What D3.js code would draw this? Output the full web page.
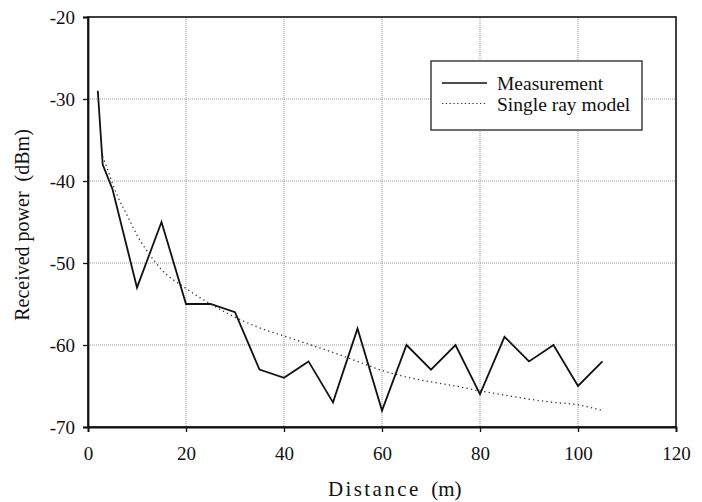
<!DOCTYPE html>
<html><head><meta charset="utf-8">
<script src="https://cdn.jsdelivr.net/npm/d3@7"></script>
<style>body{margin:0;background:#fff}svg{display:block}</style>
</head><body><svg id="c" width="702" height="502"></svg>
<script>
const measDist = [2, 3, 5, 10, 15, 20, 25, 30, 35, 40, 45, 50, 55, 60, 65, 70, 75, 80, 85, 90, 95, 100, 105];
const measPower = [-29, -38, -41, -53, -45, -55, -55, -56, -63, -64, -62, -67, -58, -68, -60, -63, -60, -66, -59, -62, -60, -65, -62];
const modelDist = [3, 4, 5, 6, 8, 10, 12, 15, 20, 25, 30, 35, 40, 45, 50, 55, 60, 65, 70, 75, 80, 85, 90, 95, 100, 105];
const modelPower = [-37, -38.6, -40.3, -41.8, -44.2, -46.6, -48.5, -50.8, -53.1, -55.0, -56.6, -57.9, -58.9, -59.9, -60.9, -62.0, -63.1, -63.9, -64.5, -65.0, -65.6, -66.1, -66.6, -67.0, -67.3, -68.0];
const xTicks = [0, 20, 40, 60, 80, 100, 120];
const yTicks = [-20, -30, -40, -50, -60, -70];
const legendLabels = ["Measurement", "Single ray model"];

const FONT = "'Liberation Serif', 'Times New Roman', 'DejaVu Serif', serif";
const svg = d3.select("#c").style("font-family", FONT);
const L = 88, R = 676, T = 17, B = 427;
const x = d3.scaleLinear().domain([0, 120]).range([L, R]);
const y = d3.scaleLinear().domain([-70, -20]).range([B, T]);

// grid
const g = svg.append("g");
g.selectAll(".gx").data(xTicks.slice(1, -1)).enter().append("line")
  .attr("x1", d => x(d)).attr("x2", d => x(d)).attr("y1", T).attr("y2", B)
  .attr("stroke", "#999").attr("stroke-dasharray", "1,1");
g.selectAll(".gy").data(yTicks.slice(1, -1)).enter().append("line")
  .attr("x1", L).attr("x2", R).attr("y1", d => y(d)).attr("y2", d => y(d))
  .attr("stroke", "#999").attr("stroke-dasharray", "1,1");

// frame
svg.append("rect").attr("x", L).attr("y", T).attr("width", R - L).attr("height", B - T)
  .attr("fill", "none").attr("stroke", "#111").attr("stroke-width", 1.6);

// axes
const fmt = d => String(d);
const xAxis = d3.axisBottom(x).tickValues(xTicks).tickFormat(fmt).tickSize(5).tickPadding(15);
const yAxis = d3.axisLeft(y).tickValues(yTicks).tickFormat(fmt).tickSize(5).tickPadding(8);
const xa = svg.append("g").attr("transform", `translate(0,${B})`).call(xAxis);
const ya = svg.append("g").attr("transform", `translate(${L},0)`).call(yAxis);
[xa, ya].forEach(a => {
  a.attr("font-family", null).attr("font-size", null);
  a.select(".domain").attr("stroke", "#111").attr("stroke-width", 1.8);
  a.selectAll(".tick line").attr("stroke", "#111").attr("stroke-width", 1.3);
  a.selectAll(".tick text").style("font-family", FONT).style("font-size", "19px").attr("fill", "#111");
});

// lines
const lineM = d3.line().x((d, i) => x(measDist[i])).y(d => y(d));
svg.append("path").datum(measPower).attr("d", lineM)
  .attr("fill", "none").attr("stroke", "#111").attr("stroke-width", 1.8).attr("stroke-linejoin", "miter");
const lineS = d3.line().x((d, i) => x(modelDist[i])).y(d => y(d)).curve(d3.curveMonotoneX);
svg.append("path").datum(modelPower).attr("d", lineS)
  .attr("fill", "none").attr("stroke", "#333").attr("stroke-width", 1.3).attr("stroke-dasharray", "1.3,3.2");

// legend
const lg = svg.append("g");
lg.append("rect").attr("x", 431).attr("y", 61).attr("width", 211).attr("height", 69)
  .attr("fill", "#fff").attr("stroke", "#222").attr("stroke-width", 1.3);
lg.append("line").attr("x1", 442).attr("x2", 487).attr("y1", 83).attr("y2", 83)
  .attr("stroke", "#111").attr("stroke-width", 1.6);
lg.append("line").attr("x1", 442).attr("x2", 487).attr("y1", 103.5).attr("y2", 103.5)
  .attr("stroke", "#333").attr("stroke-width", 1.2).attr("stroke-dasharray", "1.3,2.5");
lg.selectAll("text").data(legendLabels).enter().append("text")
  .attr("x", 497).attr("y", (d, i) => 90 + i * 20.5).style("font-family", FONT).style("font-size", "19.5px")
  .attr("fill", "#111").text(d => d);

// axis titles
const xt = svg.append("text").attr("x", 328).attr("y", 496)
  .style("font-family", FONT).style("font-size", "21px").style("white-space", "pre").attr("fill", "#111");
xt.append("tspan").style("letter-spacing", "2.4px").text("Distance");
xt.append("tspan").text("  (m)");
svg.append("text").attr("transform", "translate(29,225) rotate(-90)").attr("text-anchor", "middle")
  .style("font-family", FONT).style("font-size", "20px").style("white-space", "pre").attr("fill", "#111")
  .text("Received power  (dBm)");
</script></body></html>
